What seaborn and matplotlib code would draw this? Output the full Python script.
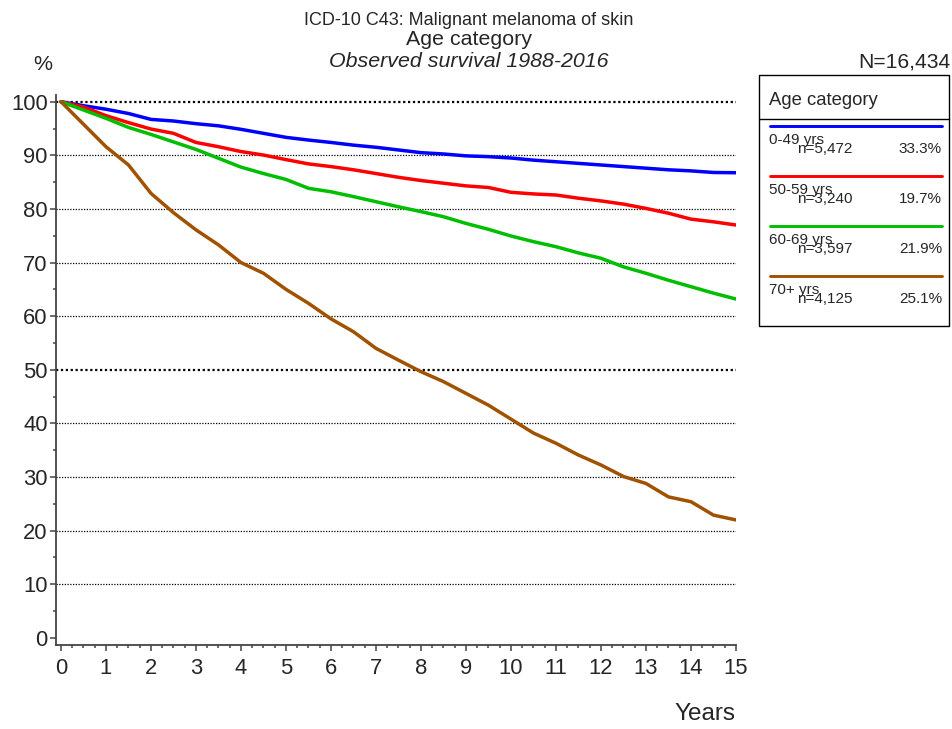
import matplotlib
matplotlib.use("Agg")
import matplotlib.pyplot as plt
import pandas as pd
import seaborn as sns
from matplotlib.lines import Line2D
from matplotlib.patches import Rectangle
from matplotlib.ticker import MultipleLocator

# Observed survival (%) by age group, read every half year
years = [0, 0.5, 1, 1.5, 2, 2.5, 3, 3.5, 4, 4.5, 5, 5.5, 6, 6.5, 7, 7.5,
         8, 8.5, 9, 9.5, 10, 10.5, 11, 11.5, 12, 12.5, 13, 13.5, 14, 14.5, 15]
surv_0_49 = [100, 99.25, 98.6, 97.8, 96.7, 96.4, 95.9, 95.5, 94.85, 94.1, 93.35,
             92.85, 92.4, 91.9, 91.5, 91.0, 90.5, 90.25, 89.9, 89.75, 89.5, 89.1,
             88.8, 88.5, 88.2, 87.9, 87.6, 87.3, 87.1, 86.8, 86.75]
surv_50_59 = [100, 99.0, 97.4, 96.1, 94.9, 94.1, 92.4, 91.6, 90.7, 90.05, 89.2,
              88.4, 87.9, 87.3, 86.6, 85.9, 85.3, 84.8, 84.3, 84.0, 83.1, 82.8,
              82.6, 82.0, 81.5, 80.9, 80.1, 79.2, 78.1, 77.6, 77.0]
surv_60_69 = [100, 98.45, 96.9, 95.2, 93.9, 92.5, 91.1, 89.45, 87.8, 86.6, 85.5,
              83.85, 83.2, 82.3, 81.35, 80.4, 79.5, 78.55, 77.3, 76.2, 74.95, 73.9,
              72.96, 71.8, 70.8, 69.2, 68.0, 66.7, 65.5, 64.3, 63.2]
surv_70_plus = [100, 95.8, 91.6, 88.2, 82.9, 79.3, 76.1, 73.3, 70.0, 68.0, 65.0,
                62.4, 59.5, 57.1, 54.0, 51.8, 49.65, 47.8, 45.6, 43.4, 40.8, 38.2,
                36.3, 34.1, 32.25, 30.1, 28.8, 26.3, 25.4, 22.9, 22.0]

groups = ["0-49 yrs", "50-59 yrs", "60-69 yrs", "70+ yrs"]
counts = ["n=5,472", "n=3,240", "n=3,597", "n=4,125"]
shares = ["33.3%", "19.7%", "21.9%", "25.1%"]
colors = ["#0000FF", "#FF0000", "#00BE00", "#A05200"]
total_label = "N=16,434"

series = [surv_0_49, surv_50_59, surv_60_69, surv_70_plus]
df = pd.concat(
    [pd.DataFrame({"Years": years, "Survival": s, "Group": g})
     for g, s in zip(groups, series)],
    ignore_index=True,
)

sns.set_style("white")
plt.rcParams["font.family"] = ["Liberation Sans", "DejaVu Sans"]

W, H = 953, 729
fig = plt.figure(figsize=(W / 100, H / 100), dpi=100)


def fx(px):
    return px / W


def fy(py):
    return 1 - py / H


ax = fig.add_axes([fx(56), fy(645), fx(736) - fx(56), fy(95) - fy(645)])

# dotted horizontal reference lines, heavier at 50 and 100
for v in range(10, 101, 10):
    lw = 1.6 if v in (50, 100) else 0.9
    ax.axhline(v, color="black", lw=lw, ls=(0, (1, 1.2)), zorder=1)

sns.lineplot(data=df, x="Years", y="Survival", hue="Group", palette=colors,
             hue_order=groups, estimator=None, lw=2.5, legend=False, ax=ax,
             zorder=3)

ax.set_xlim(-0.111, 15.0)
ax.set_ylim(-1.32, 101.25)
ax.set_xlabel("")
ax.set_ylabel("")

for side in ("top", "right"):
    ax.spines[side].set_visible(False)
for side in ("left", "bottom"):
    ax.spines[side].set_color("#444444")
    ax.spines[side].set_linewidth(1.3)

ax.xaxis.set_major_locator(MultipleLocator(1))
ax.xaxis.set_minor_locator(MultipleLocator(0.25))
ax.yaxis.set_major_locator(MultipleLocator(10))
ax.yaxis.set_minor_locator(MultipleLocator(5))
ax.tick_params(axis="both", which="both", color="#444444", width=1.1,
               direction="out", bottom=True, left=True, top=False,
               right=False)
ax.tick_params(axis="both", which="major", length=4.5, labelsize=15.8)
ax.tick_params(axis="both", which="minor", length=2.5)
ax.tick_params(axis="x", which="major", pad=5)
ax.tick_params(axis="y", which="major", pad=1.5)
ax.set_xticks(range(0, 16))
ax.set_yticks(range(0, 101, 10))

# titles
fig.text(fx(469), fy(25), "ICD-10 C43: Malignant melanoma of skin",
         ha="center", va="baseline", fontsize=13)
fig.text(fx(469), fy(45), "Age category", ha="center", va="baseline",
         fontsize=15.4)
fig.text(fx(469), fy(67), "Observed survival 1988-2016", ha="center",
         va="baseline", fontsize=15.4, style="italic")
fig.text(fx(42.5), fy(70), "%", ha="center", va="baseline", fontsize=15.4)
fig.text(fx(951), fy(67.5), total_label, ha="right", va="baseline",
         fontsize=15.2)
fig.text(fx(735), fy(720), "Years", ha="right", va="baseline", fontsize=17.5)

# legend box
fig.patches.append(Rectangle((fx(759.5), fy(326)), fx(949.5) - fx(759.5),
                             fy(74.5) - fy(326), transform=fig.transFigure,
                             fill=False, edgecolor="black", lw=1.0))
fig.add_artist(Line2D([fx(759.5), fx(949.5)], [fy(119), fy(119)],
                      transform=fig.transFigure, color="black", lw=1.0))
fig.text(fx(769), fy(105), "Age category", ha="left", va="baseline",
         fontsize=13.3)

for i, (g, n, p, c) in enumerate(zip(groups, counts, shares, colors)):
    y0 = 126 + 49.9 * i
    fig.add_artist(Line2D([fx(769.5), fx(942.5)], [fy(y0), fy(y0)],
                          transform=fig.transFigure, color=c, lw=2.1))
    fig.text(fx(769), fy(y0 + 18.3), g, ha="left", va="baseline",
             fontsize=11)
    fig.text(fx(797.5), fy(y0 + 27.2), n, ha="left", va="baseline",
             fontsize=11)
    fig.text(fx(942), fy(y0 + 27.2), p, ha="right", va="baseline",
             fontsize=11)

fig.savefig("out.png", dpi=100)
